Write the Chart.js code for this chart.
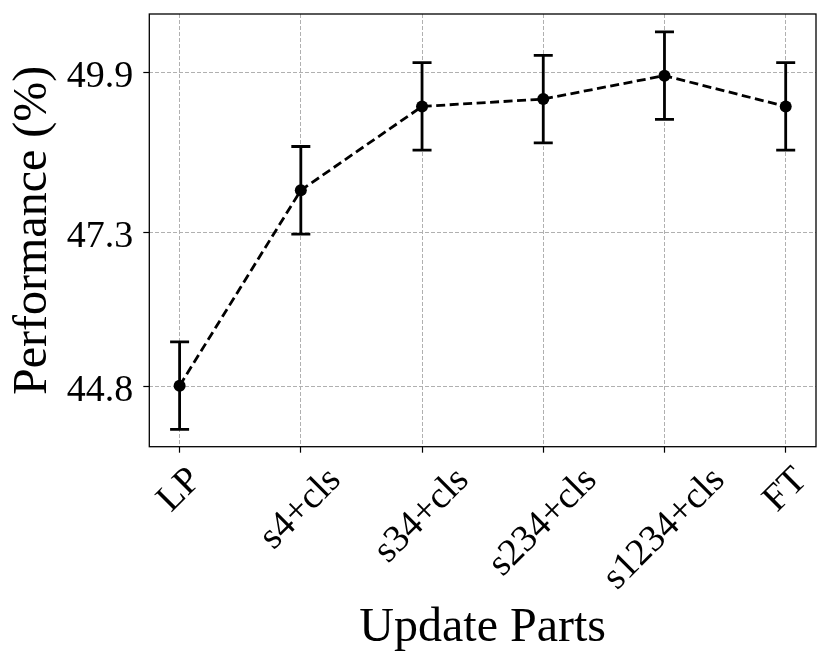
<!DOCTYPE html>
<html>
<head>
<meta charset="utf-8">
<script src="https://cdn.jsdelivr.net/npm/chart.js@4.4.1/dist/chart.umd.min.js"></script>
<style>
  html, body { margin: 0; padding: 0; background: #fff; }
  #wrap { width: 830px; height: 667px; position: relative; }
</style>
</head>
<body>
<div id="wrap"><canvas id="perfChart"></canvas></div>
<script>
// values
const categories = ['LP', 's4+cls', 's34+cls', 's234+cls', 's1234+cls', 'FT'];
const performance = [44.82, 47.99, 49.35, 49.47, 49.85, 49.35];
const errors = [0.71, 0.71, 0.71, 0.71, 0.71, 0.71];
const yTickValues = [44.8, 47.3, 49.9];

const FONT = "'Liberation Serif', 'Times New Roman', serif";

// error bars with caps, drawn from the scales
const errorBarPlugin = {
  id: 'errorBars',
  afterDatasetsDraw(chart) {
    const ctx = chart.ctx;
    const xs = chart.scales.x, ys = chart.scales.y;
    ctx.save();
    ctx.strokeStyle = '#000';
    ctx.lineWidth = 2.8;
    ctx.setLineDash([]);
    performance.forEach((v, i) => {
      const px = xs.getPixelForValue(i);
      const top = ys.getPixelForValue(v + errors[i]);
      const bot = ys.getPixelForValue(v - errors[i]);
      ctx.beginPath();
      ctx.moveTo(px, top); ctx.lineTo(px, bot);
      ctx.moveTo(px - 9.5, top); ctx.lineTo(px + 9.5, top);
      ctx.moveTo(px - 9.5, bot); ctx.lineTo(px + 9.5, bot);
      ctx.stroke();
    });
    ctx.restore();
  }
};

// frame + rotated, centred category labels (matplotlib style)
const framePlugin = {
  id: 'frame',
  afterDraw(chart) {
    const ctx = chart.ctx;
    const a = chart.chartArea;
    ctx.save();
    ctx.strokeStyle = '#000';
    ctx.lineWidth = 1.3;
    ctx.setLineDash([]);
    ctx.strokeRect(a.left, a.top, a.right - a.left, a.bottom - a.top);

    const xs = chart.scales.x;
    ctx.font = '38px ' + FONT;
    ctx.fillStyle = '#000';
    ctx.textAlign = 'center';
    ctx.textBaseline = 'middle';
    const h = 32;
    const y0 = a.bottom + 16.5;
    categories.forEach((lab, i) => {
      const w = ctx.measureText(lab).width;
      const half = (w + h) / (2 * Math.SQRT2);
      ctx.save();
      ctx.translate(xs.getPixelForValue(i), y0 + half);
      ctx.rotate(-Math.PI / 4);
      ctx.fillText(lab, 0, 0);
      ctx.restore();
    });
    ctx.restore();
  }
};

const ctx = document.getElementById('perfChart').getContext('2d');
const perfChart = new Chart(ctx, {
  type: 'line',
  data: {
    datasets: [{
      data: performance.map((v, i) => ({ x: i, y: v })),
      borderColor: '#000',
      backgroundColor: '#000',
      borderWidth: 2.8,
      borderDash: [9, 4.5],
      pointRadius: 6,
      pointBorderWidth: 0,
      pointBackgroundColor: '#000',
      tension: 0,
      fill: false
    }]
  },
  options: {
    responsive: true,
    maintainAspectRatio: false,
    animation: false,
    layout: { padding: { top: 14, right: 14, left: 0, bottom: 0 } },
    plugins: { legend: { display: false }, tooltip: { enabled: false } },
    scales: {
      x: {
        type: 'linear',
        min: -0.25,
        max: 5.25,
        afterBuildTicks: s => { s.ticks = categories.map((c, i) => ({ value: i })); },
        afterFit: s => { s.height = 220.3; s.paddingLeft = 0; s.paddingRight = 0; },
        ticks: { display: false },
        grid: {
          color: '#b0b0b0',
          lineWidth: 1,
          drawTicks: true,
          tickLength: 6,
          tickColor: '#000',
          tickWidth: 1.2,
          tickBorderDash: []
        },
        border: { display: false, dash: [4, 2] },
        title: {
          display: true,
          text: 'Update Parts',
          color: '#000',
          font: { family: FONT, size: 48, lineHeight: 1 },
          padding: { top: 0, bottom: 15 }
        }
      },
      y: {
        min: 43.83,
        max: 50.85,
        afterBuildTicks: s => { s.ticks = yTickValues.map(v => ({ value: v })); },
        afterFit: s => { s.width = 149.3; s.paddingTop = 0; s.paddingBottom = 0; },
        ticks: {
          color: '#000',
          font: { family: FONT, size: 38 },
          padding: 10,
          labelOffset: 4,
          callback: v => v.toFixed(1)
        },
        grid: {
          color: '#b0b0b0',
          lineWidth: 1,
          drawTicks: true,
          tickLength: 6,
          tickColor: '#000',
          tickWidth: 1.2,
          tickBorderDash: []
        },
        border: { display: false, dash: [4, 2] },
        title: {
          display: true,
          text: 'Performance (%)',
          color: '#000',
          font: { family: FONT, size: 48, lineHeight: 1 },
          padding: { top: 9, bottom: 0 }
        }
      }
    }
  },
  plugins: [errorBarPlugin, framePlugin]
});
</script>
</body>
</html>
